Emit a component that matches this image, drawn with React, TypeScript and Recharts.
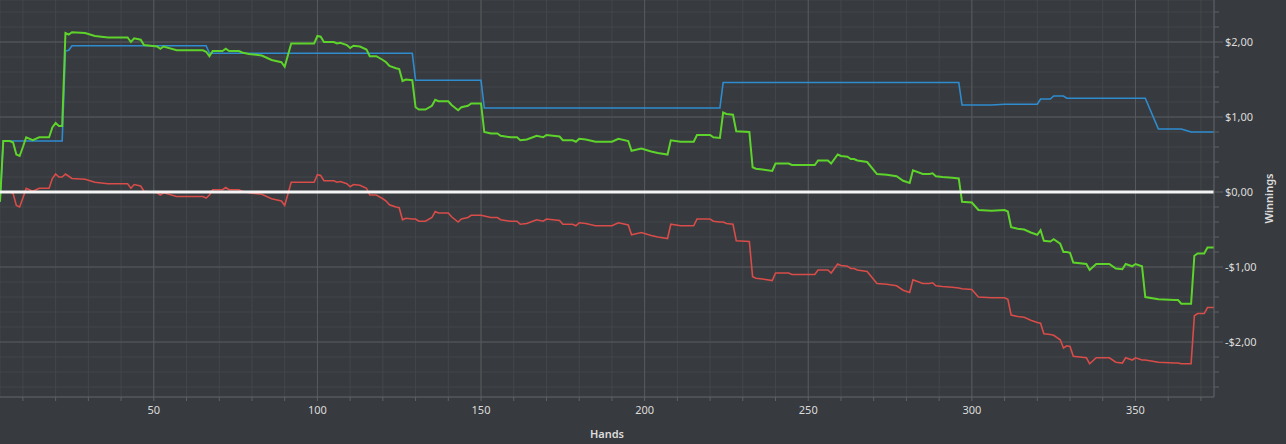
import React from 'react';
import { LineChart, Line, XAxis, YAxis, CartesianGrid, ReferenceLine, Label } from 'recharts';

const hands = [3, 4, 6, 7, 8, 9, 10, 11, 13, 15, 18, 19, 20, 21, 22, 23, 24, 25, 29, 32, 36, 42, 43, 44, 46, 47, 51, 52, 53, 57, 65, 66, 67, 68, 71, 72, 73, 76, 77, 79, 83, 86, 89, 90, 92, 99, 100, 101, 102, 105, 106, 107, 109, 110, 111, 113, 115, 116, 118, 120, 121, 122, 124, 125, 126, 127, 129, 130, 131, 133, 135, 136, 137, 140, 141, 143, 144, 146, 147, 150, 151, 153, 155, 156, 159, 161, 162, 164, 167, 169, 170, 174, 175, 178, 179, 180, 182, 185, 190, 192, 195, 196, 199, 202, 204, 207, 208, 211, 215, 216, 220, 221, 223, 224, 225, 227, 228, 232, 233, 234, 236, 239, 240, 244, 245, 252, 253, 256, 257, 259, 260, 262, 263, 264, 265, 268, 271, 274, 277, 279, 281, 282, 285, 287, 288, 289, 291, 294, 296, 297, 300, 302, 306, 310, 311, 312, 314, 316, 318, 320, 321, 322, 324, 325, 327, 328, 329, 330, 331, 335, 336, 338, 342, 344, 346, 347, 349, 350, 352, 353, 357, 362, 363, 364, 367, 368, 369, 371, 372, 374];

const netWon = [-0.13, 0.68, 0.68, 0.66, 0.5, 0.48, 0.6, 0.73, 0.69, 0.73, 0.73, 0.86, 0.92, 0.88, 0.88, 2.12, 2.1, 2.13, 2.12, 2.08, 2.06, 2.06, 2.0, 2.05, 2.03, 1.96, 1.94, 1.91, 1.94, 1.89, 1.89, 1.87, 1.81, 1.88, 1.88, 1.91, 1.88, 1.88, 1.86, 1.84, 1.82, 1.76, 1.73, 1.67, 1.98, 1.98, 2.08, 2.07, 2.0, 2.0, 1.98, 1.99, 1.96, 1.92, 1.95, 1.94, 1.9, 1.81, 1.81, 1.76, 1.73, 1.68, 1.65, 1.64, 1.48, 1.5, 1.49, 1.13, 1.1, 1.1, 1.15, 1.23, 1.21, 1.21, 1.16, 1.09, 1.13, 1.15, 1.18, 1.18, 0.8, 0.78, 0.78, 0.75, 0.73, 0.73, 0.69, 0.7, 0.75, 0.73, 0.76, 0.74, 0.69, 0.69, 0.67, 0.71, 0.7, 0.67, 0.67, 0.71, 0.68, 0.55, 0.58, 0.54, 0.52, 0.5, 0.69, 0.67, 0.67, 0.76, 0.76, 0.73, 0.72, 1.06, 1.04, 1.03, 0.81, 0.8, 0.33, 0.31, 0.3, 0.28, 0.38, 0.38, 0.36, 0.36, 0.42, 0.42, 0.38, 0.5, 0.48, 0.47, 0.44, 0.44, 0.42, 0.4, 0.24, 0.23, 0.21, 0.15, 0.12, 0.29, 0.24, 0.24, 0.25, 0.21, 0.2, 0.19, 0.18, -0.13, -0.14, -0.24, -0.25, -0.24, -0.26, -0.47, -0.49, -0.5, -0.54, -0.57, -0.51, -0.65, -0.66, -0.63, -0.69, -0.8, -0.8, -0.81, -0.94, -0.96, -1.04, -0.96, -0.96, -1.02, -1.03, -0.96, -0.99, -0.96, -0.99, -1.4, -1.43, -1.44, -1.44, -1.49, -1.49, -0.85, -0.82, -0.82, -0.74, -0.74];

const showdown = [-0.13, 0.68, 0.68, 0.68, 0.68, 0.68, 0.68, 0.68, 0.68, 0.68, 0.68, 0.68, 0.68, 0.68, 0.68, 1.88, 1.89, 1.95, 1.95, 1.95, 1.95, 1.95, 1.95, 1.95, 1.95, 1.95, 1.95, 1.95, 1.95, 1.95, 1.95, 1.95, 1.85, 1.85, 1.85, 1.85, 1.85, 1.85, 1.85, 1.85, 1.85, 1.85, 1.85, 1.85, 1.85, 1.85, 1.85, 1.85, 1.85, 1.85, 1.85, 1.85, 1.85, 1.85, 1.85, 1.85, 1.85, 1.85, 1.85, 1.85, 1.85, 1.85, 1.85, 1.85, 1.85, 1.85, 1.85, 1.49, 1.49, 1.49, 1.49, 1.49, 1.49, 1.49, 1.49, 1.49, 1.49, 1.49, 1.49, 1.49, 1.12, 1.12, 1.12, 1.12, 1.12, 1.12, 1.12, 1.12, 1.12, 1.12, 1.12, 1.12, 1.12, 1.12, 1.12, 1.12, 1.12, 1.12, 1.12, 1.12, 1.12, 1.12, 1.12, 1.12, 1.12, 1.12, 1.12, 1.12, 1.12, 1.12, 1.12, 1.12, 1.12, 1.46, 1.46, 1.46, 1.46, 1.46, 1.46, 1.46, 1.46, 1.46, 1.46, 1.46, 1.46, 1.46, 1.46, 1.46, 1.46, 1.46, 1.46, 1.46, 1.46, 1.46, 1.46, 1.46, 1.46, 1.46, 1.46, 1.46, 1.46, 1.46, 1.46, 1.46, 1.46, 1.46, 1.46, 1.46, 1.46, 1.16, 1.16, 1.16, 1.16, 1.17, 1.17, 1.17, 1.17, 1.17, 1.17, 1.17, 1.24, 1.24, 1.24, 1.28, 1.28, 1.28, 1.25, 1.25, 1.25, 1.25, 1.25, 1.25, 1.25, 1.25, 1.25, 1.25, 1.25, 1.25, 1.25, 1.25, 0.84, 0.84, 0.84, 0.84, 0.8, 0.8, 0.8, 0.8, 0.8, 0.8, 0.8];

const nonShowdown = [0.0, 0.0, 0.0, -0.02, -0.18, -0.2, -0.08, 0.05, 0.01, 0.05, 0.05, 0.18, 0.24, 0.2, 0.2, 0.24, 0.21, 0.18, 0.17, 0.13, 0.11, 0.11, 0.05, 0.1, 0.08, 0.01, -0.01, -0.04, -0.01, -0.06, -0.06, -0.08, -0.04, 0.03, 0.03, 0.06, 0.03, 0.03, 0.01, -0.01, -0.03, -0.09, -0.12, -0.18, 0.13, 0.13, 0.23, 0.22, 0.15, 0.15, 0.13, 0.14, 0.11, 0.07, 0.1, 0.09, 0.05, -0.04, -0.04, -0.09, -0.12, -0.17, -0.2, -0.21, -0.37, -0.35, -0.36, -0.36, -0.39, -0.39, -0.34, -0.26, -0.28, -0.28, -0.33, -0.4, -0.36, -0.34, -0.31, -0.31, -0.32, -0.34, -0.34, -0.37, -0.39, -0.39, -0.43, -0.42, -0.37, -0.39, -0.36, -0.38, -0.43, -0.43, -0.45, -0.41, -0.42, -0.45, -0.45, -0.41, -0.44, -0.57, -0.54, -0.58, -0.6, -0.62, -0.43, -0.45, -0.45, -0.36, -0.36, -0.39, -0.4, -0.4, -0.42, -0.43, -0.65, -0.66, -1.13, -1.15, -1.16, -1.18, -1.08, -1.08, -1.1, -1.1, -1.04, -1.04, -1.08, -0.96, -0.98, -0.99, -1.02, -1.02, -1.04, -1.06, -1.22, -1.23, -1.25, -1.31, -1.34, -1.17, -1.22, -1.22, -1.21, -1.25, -1.26, -1.27, -1.28, -1.29, -1.3, -1.4, -1.41, -1.41, -1.43, -1.64, -1.66, -1.67, -1.71, -1.74, -1.75, -1.89, -1.9, -1.91, -1.97, -2.08, -2.05, -2.06, -2.19, -2.21, -2.29, -2.21, -2.21, -2.27, -2.28, -2.21, -2.24, -2.21, -2.24, -2.24, -2.27, -2.28, -2.28, -2.29, -2.29, -1.65, -1.62, -1.62, -1.54, -1.54];

const xTicks = [10, 20, 30, 40, 50, 60, 70, 80, 90, 100, 110, 120, 130, 140, 150, 160, 170, 180, 190, 200, 210, 220, 230, 240, 250, 260, 270, 280, 290, 300, 310, 320, 330, 340, 350, 360, 370];
const xMajor = [50, 100, 150, 200, 250, 300, 350];
const yTicks = [-2.6, -2.4, -2.2, -2, -1.8, -1.6, -1.4, -1.2, -1, -0.8, -0.6, -0.4, -0.2, 0, 0.2, 0.4, 0.6, 0.8, 1, 1.2, 1.4, 1.6, 1.8, 2, 2.2, 2.4];
const yMajor = [-2, -1, 0, 1, 2];

const data = hands.map((h, i) => ({ hand: h, won: netWon[i], sd: showdown[i], nsd: nonShowdown[i] }));

const BG = '#373a3e';
const GRID = '#43474b';
const GRID_MAJOR = '#565a5e';
const AXIS = '#5e6266';
const TEXT = '#dcdcdc';
const FONT = '"Noto Sans", "Open Sans", sans-serif';

const fmtMoney = (v: number) => (v < 0 ? '-' : '') + '$' + Math.abs(v).toFixed(2).replace('.', ',');

const YTick = (props: any) => {
  const { x, y, payload } = props;
  const v = payload.value;
  const major = yMajor.includes(v);
  return (
    <g>
      <line x1={x} x2={x + (major ? 9 : 5)} y1={y} y2={y} stroke={AXIS} strokeWidth={1} />
      {major && (
        <text x={x + 11} y={y} dy={4} fill={TEXT} fontSize={11} fontFamily={FONT} textAnchor="start">
          {fmtMoney(v)}
        </text>
      )}
    </g>
  );
};

const XTick = (props: any) => {
  const { x, y, payload } = props;
  const v = payload.value;
  const major = xMajor.includes(v);
  return (
    <g>
      <line x1={x} x2={x} y1={y} y2={y + 4} stroke={AXIS} strokeWidth={1} />
      {major && (
        <text x={x} y={y + 17} fill={TEXT} fontSize={11} fontFamily={FONT} textAnchor="middle">
          {v}
        </text>
      )}
    </g>
  );
};

export default function App() {
  return (
    <div style={{ width: 1286, height: 444, background: BG, position: 'absolute', left: 0, top: 0 }}>
      <style>{'body{margin:0;background:' + BG + ';}'}</style>
      <LineChart width={1286} height={444} data={data} margin={{ top: 0, right: 0, bottom: 0, left: 0 }}>
        <CartesianGrid stroke={GRID} strokeWidth={1} />
        <XAxis
          dataKey="hand"
          type="number"
          domain={[3, 374]}
          ticks={xTicks}
          interval={0}
          height={47}
          tickSize={0}
          tickMargin={0}
          tickLine={false}
          axisLine={{ stroke: AXIS }}
          tick={<XTick />}
          allowDataOverflow
        >
          <Label
            content={(p: any) => {
              const vb = p.viewBox;
              return (
                <text x={vb.x + vb.width / 2} y={438} fill={TEXT} fontSize={11} fontWeight={600} fontFamily={FONT} textAnchor="middle">
                  Hands
                </text>
              );
            }}
          />
        </XAxis>
        <YAxis
          orientation="right"
          type="number"
          domain={[-2.733, 2.56]}
          ticks={yTicks}
          interval={0}
          width={72}
          tickSize={0}
          tickMargin={0}
          tickLine={false}
          axisLine={{ stroke: AXIS }}
          tick={<YTick />}
          allowDataOverflow
        >
          <Label
            content={(p: any) => {
              const vb = p.viewBox;
              const cx = 1273;
              const cy = vb.y + vb.height / 2;
              return (
                <text x={cx} y={cy} transform={`rotate(-90, ${cx}, ${cy})`} fill={TEXT} fontSize={11} fontWeight={600} fontFamily={FONT} textAnchor="middle">
                  Winnings
                </text>
              );
            }}
          />
        </YAxis>
        {xMajor.map((v) => (
          <ReferenceLine key={'vx' + v} x={v} stroke={GRID_MAJOR} strokeWidth={1} />
        ))}
        {yMajor.filter((v) => v !== 0).map((v) => (
          <ReferenceLine key={'hy' + v} y={v} stroke={GRID_MAJOR} strokeWidth={1} />
        ))}
        <Line type="linear" dataKey="sd" stroke="#2f8ccf" strokeWidth={1.6} dot={false} activeDot={false} isAnimationActive={false} />
        <Line type="linear" dataKey="nsd" stroke="#d84c49" strokeWidth={1.6} dot={false} activeDot={false} isAnimationActive={false} />
        <Line type="linear" dataKey="won" stroke="#5ed32b" strokeWidth={2} dot={false} activeDot={false} isAnimationActive={false} />
        <ReferenceLine y={0} stroke="#f4f4f4" strokeWidth={3} />
      </LineChart>
    </div>
  );
}
